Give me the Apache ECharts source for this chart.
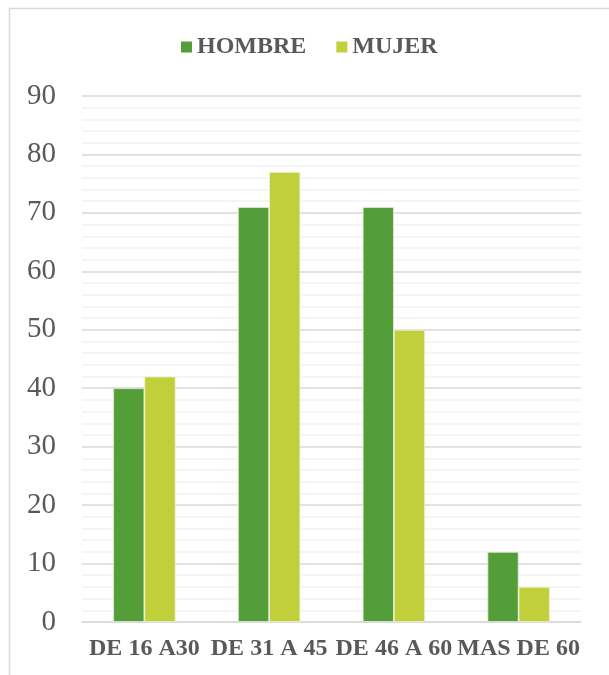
<!DOCTYPE html>
<html>
<head>
<meta charset="utf-8">
<script src="https://cdn.jsdelivr.net/npm/echarts@6/dist/echarts.min.js"></script>
<style>
  html, body { margin: 0; padding: 0; background: #fff; }
  #chart { width: 609px; height: 675px; }
</style>
</head>
<body>
<div id="chart"></div>
<script>
// age groups
const categories = ['DE 16 A30', 'DE 31 A 45', 'DE 46 A 60', 'MAS DE 60']
const hombre = [40, 71, 71, 12]
const mujer = [42, 77, 50, 6]
const yTicks = [0, 10, 20, 30, 40, 50, 60, 70, 80, 90]

const chart = echarts.init(document.getElementById('chart'))

const option = {
  animation: false,
  color: ['#549E39', '#C0CF3A'],
  // outer frame of the excel chart
  graphic: [{
    type: 'rect',
    shape: { x: 9.5, y: 8.5, width: 700, height: 700 },
    style: { fill: 'none', stroke: '#D9D9D9', lineWidth: 1.5 },
    silent: true
  }],
  legend: {
    top: 35,
    left: 181,
    padding: 0,
    itemWidth: 11,
    itemHeight: 11,
    itemGap: 30,
    icon: 'rect',
    itemStyle: { borderWidth: 0 },
    textStyle: {
      fontFamily: 'Liberation Serif',
      fontWeight: 'bold',
      fontSize: 24,
      color: '#595959'
    },
    data: ['HOMBRE', 'MUJER']
  },
  grid: {
    left: 82,
    right: 28,
    top: 96,
    bottom: 53
  },
  xAxis: {
    type: 'category',
    data: categories,
    axisTick: { show: false },
    axisLine: { lineStyle: { color: '#D9D9D9', width: 1.5 } },
    axisLabel: {
      margin: 15,
      fontFamily: 'Liberation Serif',
      fontWeight: 'bold',
      fontSize: 24,
      color: '#595959',
      interval: 0
    }
  },
  yAxis: {
    type: 'value',
    min: yTicks[0],
    max: yTicks[yTicks.length - 1],
    interval: 10,
    axisLine: { show: false },
    axisTick: { show: false },
    axisLabel: {
      margin: 26,
      fontFamily: 'Liberation Serif',
      fontSize: 29,
      color: '#595959'
    },
    splitLine: { lineStyle: { color: '#D9D9D9', width: 1.5 } },
    minorTick: { show: false, splitNumber: 5 },
    minorSplitLine: { show: true, lineStyle: { color: '#F2F2F2', width: 1.5 } }
  },
  series: [
    {
      name: 'HOMBRE',
      type: 'bar',
      data: hombre,
      barWidth: '25%',
      barGap: '0%',
      itemStyle: { borderColor: '#E3EDDC', borderWidth: 0.8 }
    },
    {
      name: 'MUJER',
      type: 'bar',
      data: mujer,
      barWidth: '25%',
      itemStyle: { borderColor: '#EEF2D4', borderWidth: 0.8 }
    }
  ]
}

chart.setOption(option)
</script>
</body>
</html>
